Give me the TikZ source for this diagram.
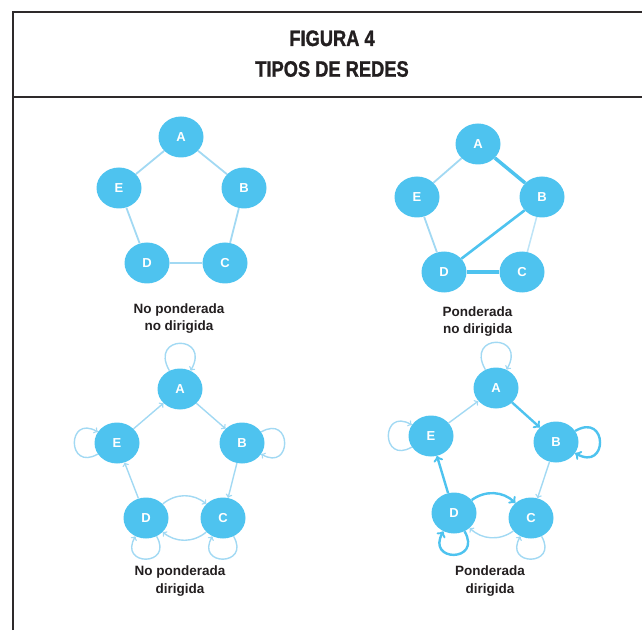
\documentclass[tikz,border=0pt]{standalone}
\usepackage{fontspec}
\setmainfont{Liberation Sans}
\newfontfamily\titlefont[FakeStretch=0.82,FakeBold=1.2]{Liberation Sans}
\usepackage{tikz}
\usetikzlibrary{arrows,shapes.geometric}
\definecolor{netblue}{HTML}{4EC3EF}
\definecolor{netlight}{HTML}{A2D9F3}
\definecolor{textdark}{HTML}{231F20}

\begin{document}
\begin{tikzpicture}[x=1pt,y=1pt,
  vertex/.style={ellipse, fill=netblue, text=white, inner sep=0pt,
    minimum width=45pt, minimum height=41pt, font=\bfseries\fontsize{13}{15}\selectfont},
  caption/.style={anchor=base, text=textdark, font=\bfseries\fontsize{13.5}{16}\selectfont},
  heading/.style={anchor=base, text=textdark, font=\titlefont\bfseries\fontsize{22.3}{26}\selectfont},
  frame/.style={draw=textdark!95, line width=2.4pt},
  linkthin/.style={draw=netlight, line width=1.8pt},
  linkthick/.style={draw=netblue, line width=3.5pt},
  arr/.style={->, draw=netlight, line width=1.4pt},
  arrthick/.style={->, draw=netblue, line width=2.4pt}]
  \useasboundingbox (0,0) rectangle (642,630);

  % frame and heading
  \draw[frame] (13,0) -- (13,618) -- (642,618);
  \draw[frame] (13,533) -- (642,533);
  \node[heading] (title1) at (332,584) {FIGURA 4};
  \node[heading] (title2) at (332,553.3) {TIPOS DE REDES};

  % no ponderada, no dirigida
  \node[vertex] (a1) at (181,493) {A};
  \node[vertex] (b1) at (244,442) {B};
  \node[vertex] (c1) at (225,367) {C};
  \node[vertex] (d1) at (147,367) {D};
  \node[vertex] (e1) at (119,442) {E};
  \draw[linkthin] (a1) -- (b1) -- (c1) -- (d1) -- (e1) -- (a1);
  \node[caption] (cap1a) at (179,317) {No ponderada};
  \node[caption] (cap1b) at (179,300) {no dirigida};

  % ponderada, no dirigida
  \node[vertex] (a2) at (478,486) {A};
  \node[vertex] (b2) at (542,433) {B};
  \node[vertex] (c2) at (522,358) {C};
  \node[vertex] (d2) at (444,358) {D};
  \node[vertex] (e2) at (417,433) {E};
  \draw[linkthin] (a2) -- (e2) -- (d2);
  \draw[linkthin, draw=netlight!70, line width=1.5pt] (b2) -- (c2);
  \draw[linkthick] (a2) -- (b2);
  \draw[linkthick, line width=2.6pt] (b2) -- (d2);
  \draw[linkthick, line width=4.5pt] (d2) -- (c2);
  \node[caption] (cap2a) at (477.5,313.3) {Ponderada};
  \node[caption] (cap2b) at (477.5,297) {no dirigida};

  % no ponderada, dirigida
  \node[vertex] (a3) at (180,241) {A};
  \node[vertex] (b3) at (242,187) {B};
  \node[vertex] (c3) at (223,112) {C};
  \node[vertex] (d3) at (146,112) {D};
  \node[vertex] (e3) at (117,187) {E};
  \draw[arr] (a3) -- (b3);
  \draw[arr] (b3) -- (c3);
  \draw[arr] (d3) -- (e3);
  \draw[arr] (e3) -- (a3);
  \draw[arr] (d3) to[bend left=40] (c3);
  \draw[arr] (c3) to[bend left=40] (d3);
  \draw[arr] (a3.120) .. controls +(120:42) and +(60:42) .. (a3.60);
  \draw[arr] (e3.210) .. controls +(210:36) and +(150:36) .. (e3.150);
  \draw[arr] (b3.30) .. controls +(30:36) and +(-30:36) .. (b3.-30);
  \draw[arr] (d3.300) .. controls +(300:35) and +(240:35) .. (d3.240);
  \draw[arr] (c3.300) .. controls +(300:35) and +(240:35) .. (c3.240);
  \node[caption] (cap3a) at (180,54.3) {No ponderada};
  \node[caption] (cap3b) at (180,37) {dirigida};

  % ponderada, dirigida
  \node[vertex] (a4) at (496,242) {A};
  \node[vertex] (b4) at (556,188) {B};
  \node[vertex] (c4) at (531,112) {C};
  \node[vertex] (d4) at (454,117) {D};
  \node[vertex] (e4) at (431,194) {E};
  \draw[arr] (e4) -- (a4);
  \draw[arrthick] (a4) -- (b4);
  \draw[arr] (b4) -- (c4);
  \draw[arrthick] (d4) -- (e4);
  \draw[arrthick] (d4) to[bend left=40] (c4);
  \draw[arr] (c4) to[bend left=40] (d4);
  \draw[arr] (a4.120) .. controls +(120:42) and +(60:42) .. (a4.60);
  \draw[arr] (e4.210) .. controls +(210:36) and +(150:36) .. (e4.150);
  \draw[arrthick] (b4.30) .. controls +(30:38) and +(-30:38) .. (b4.-30);
  \draw[arrthick] (d4.300) .. controls +(300:36) and +(240:36) .. (d4.240);
  \draw[arr] (c4.300) .. controls +(300:35) and +(240:35) .. (c4.240);
  \node[caption] (cap4a) at (490,54.3) {Ponderada};
  \node[caption] (cap4b) at (490,37) {dirigida};
\end{tikzpicture}
\end{document}
